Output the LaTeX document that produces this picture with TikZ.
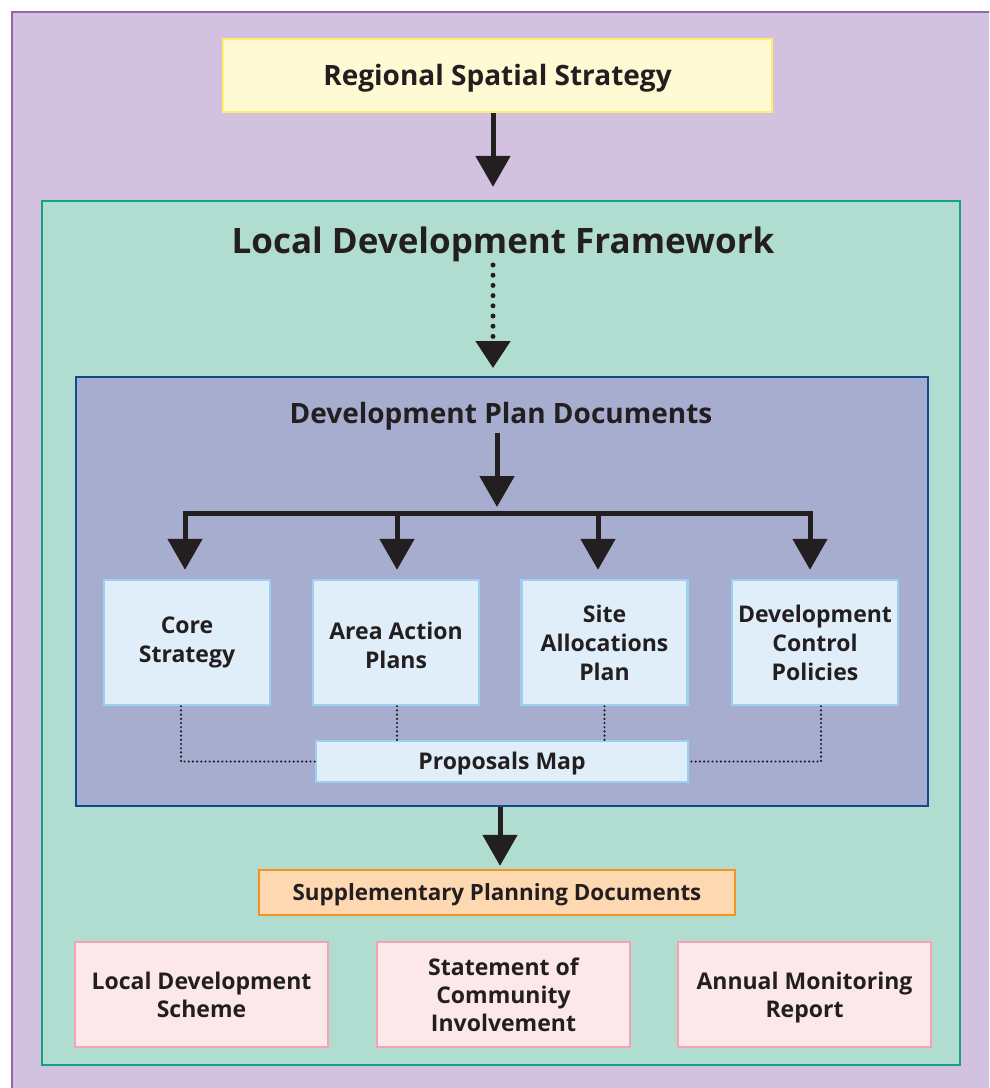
\documentclass[tikz,border=0pt]{standalone}
\usepackage{fontspec}
\setmainfont{Open Sans}
\usetikzlibrary{positioning, arrows.meta}
\definecolor{ink}{HTML}{231F20}
\definecolor{rgnfill}{HTML}{D2C2E0}
\definecolor{rgndraw}{HTML}{9565AC}
\definecolor{rssfill}{HTML}{FFFAD4}
\definecolor{rssdraw}{HTML}{FFEF6A}
\definecolor{ldffill}{HTML}{B0DDD0}
\definecolor{ldfdraw}{HTML}{12A37F}
\definecolor{dpdfill}{HTML}{A7ADCE}
\definecolor{dpddraw}{HTML}{124A8B}
\definecolor{docfill}{HTML}{DFEEF9}
\definecolor{docdraw}{HTML}{9DD0F0}
\definecolor{spdfill}{HTML}{FED8B1}
\definecolor{spddraw}{HTML}{F39225}
\definecolor{lowfill}{HTML}{FCE8EA}
\definecolor{lowdraw}{HTML}{F5A3B3}

\begin{document}
\begin{tikzpicture}[x=1pt, y=-1pt,
    every node/.style = {text=ink, font=\bfseries, align=center, inner sep=0pt},
    rssbox/.style = {rectangle, fill=rssfill, draw=rssdraw, line width=2.5pt,
      minimum width=549pt, minimum height=73pt, font=\fontsize{28}{34}\bfseries,
      text height=20pt, text depth=0pt},
    ldfbox/.style = {rectangle, fill=ldffill, draw=ldfdraw, line width=2.2pt,
      minimum width=918pt, minimum height=864pt},
    dpdbox/.style = {rectangle, fill=dpdfill, draw=dpddraw, line width=2.2pt,
      minimum width=852pt, minimum height=429pt},
    docbox/.style = {rectangle, fill=docfill, draw=docdraw, line width=2.4pt,
      minimum width=166pt, minimum height=125pt, font=\fontsize{23}{29}\bfseries},
    mapbox/.style = {rectangle, fill=docfill, draw=docdraw, line width=2.4pt,
      minimum width=372pt, minimum height=41pt, font=\fontsize{23}{29}\bfseries,
      text height=16.5pt, text depth=0pt},
    spdbox/.style = {rectangle, fill=spdfill, draw=spddraw, line width=2.4pt,
      minimum width=476pt, minimum height=45pt, font=\fontsize{22.4}{26}\bfseries,
      text height=15.8pt, text depth=0pt},
    lowbox/.style = {rectangle, fill=lowfill, draw=lowdraw, line width=2.4pt,
      minimum width=253pt, minimum height=105pt, font=\fontsize{23}{28}\bfseries},
    bigarr/.style = {draw=ink, line width=5pt,
      -{Triangle[length=31pt, width=34pt]}},
    dotarr/.style = {draw=ink, line width=5pt, line cap=round,
      dash pattern=on 0pt off 10.2pt, -{Triangle[length=27pt, width=34pt]}},
    dotline/.style = {draw=ink, line width=2.4pt, line cap=round,
      dash pattern=on 0pt off 4.2pt},
  ]
\useasboundingbox (0,0) rectangle (989,1088);
\clip (0,0) rectangle (989,1088);
\fill[rgnfill] (12,12) rectangle (1010,1110);
\draw[rgndraw, line width=2.2pt] (12,1110) -- (12,12) -- (1010,12);

\node[rssbox] (RSS) at (497.5,75.5) {Regional Spatial Strategy};
\node[ldfbox] (LDF) at (501,633) {};
\node[font=\fontsize{35}{42}\bfseries, text height=25pt, text depth=0pt] (LDFt) at (503,241) {Local Development Framework};
\node[dpdbox] (DPD) at (502,591.5) {};
\node[font=\fontsize{28}{34}\bfseries, text height=20pt, text depth=0pt] (DPDt) at (501,413) {Development Plan Documents};

\node[docbox] (Core) at (187,642.5) {Core\\Strategy};
\node[docbox] (Area) at (396,642.5) {\rule{0pt}{23.5pt}Area Action\\Plans};
\node[docbox] (Site) at (604.5,642.5) {Site\\Allocations\\Plan};
\node[docbox] (Dev) at (815,642.5) {Development\\Control\\Policies};
\node[mapbox] (PM) at (502,761.5) {Proposals Map};

\node[spdbox] (SPD) at (497,892.5) {Supplementary Planning Documents};
\node[lowbox] (LDS) at (201.5,994.5) {Local Development\\Scheme};
\node[lowbox] (SCI) at (503.5,994.5) {Statement of\\Community\\Involvement};
\node[lowbox] (AMR) at (804.5,994.5) {\rule{0pt}{23.5pt}Annual Monitoring\\Report};

\coordinate (bar) at (497,513);
\draw[bigarr, shorten >=13pt] ([xshift=-4.5pt]RSS.south) -- ([xshift=-4.5pt]RSS.south |- LDF.north);
\draw[dotarr, shorten >=8pt] (493,265) -- (493,376);
\draw[bigarr, shorten >=6pt] (bar |- 0,433) -- (bar);
\draw[draw=ink, line width=5pt, line cap=rect] ([xshift=-2pt]Core.north |- bar) -- ([xshift=-5pt]Dev.north |- bar);
\foreach \n/\dx in {Core/-2, Area/1, Site/-6.5, Dev/-5}
  \draw[bigarr, shorten >=9pt] ([xshift=\dx pt]\n.north |- bar) -- ([xshift=\dx pt]\n.north);
\draw[dotline] ([xshift=-6pt]Core.south) |- (PM.west);
\draw[dotline] ([xshift=1pt]Area.south) -- ([xshift=1pt]Area.south |- PM.north);
\draw[dotline] (Site.south) -- (Site.south |- PM.north);
\draw[dotline] ([xshift=6pt]Dev.south) |- (PM.east);
\draw[bigarr, shorten >=3pt] ([xshift=-2pt]DPD.south) -- ([xshift=-2pt]DPD.south |- SPD.north);
\end{tikzpicture}
\end{document}
